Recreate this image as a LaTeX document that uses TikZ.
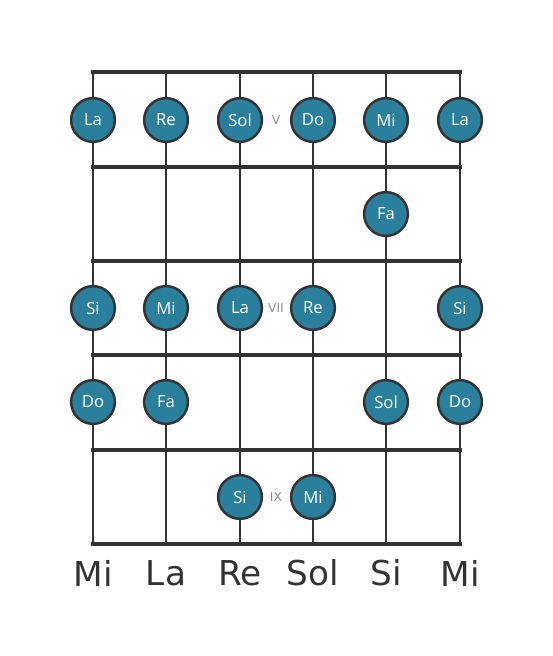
\documentclass[tikz,border=0pt]{standalone}
\usepackage{fontspec}
\setmainfont{DejaVu Sans}
\newfontfamily\notefont{Open Sans}
\definecolor{noteblue}{RGB}{42,128,156}
\definecolor{boardgray}{RGB}{51,51,51}
\tikzset{
	note/.style={circle, draw=boardgray, line width=1.4pt, fill=noteblue, minimum size=1.7cm/2*1.03, inner sep=0pt, text=white, font=\notefont\fontsize{9.5}{10}\selectfont},
	fretnum/.style={text=black!45, font=\fontsize{7}{8}\selectfont},
	stringname/.style={text=boardgray, font=\fontsize{19.5}{22}\selectfont},
}

\begin{document}
\begin{tikzpicture}[x=0.02cm, y=-0.02cm]
			%%%%% START %%%%%
			\useasboundingbox (0, 0) rectangle (553, 656);
			
			% strings
			\foreach \sx in {93, 166, 240, 313, 386, 460}
				\draw[line width=1.7pt, color=boardgray] (\sx, 72) -- (\sx, 544);
			
			% frets
			\foreach \fy in {72, 167, 261, 355, 450, 544}
				\draw[line width=2.8pt, color=boardgray] (91, \fy) -- (462, \fy);
			
			% fret V
			\node[note] (la1) at (93, 120) {La};
			\node[note] (re1) at (166, 120) {Re};
			\node[note] (sol1) at (240, 120) {Sol};
			\node[note] (do1) at (313, 120) {Do};
			\node[note] (mi1) at (386, 120) {Mi};
			\node[note] (la2) at (460, 120) {La};
			\node[fretnum] (fretV) at (276, 120) {V};
			
			\node[note] (fa1) at (386, 214) {Fa};
			
			% fret VII
			\node[note] (si1) at (93, 308) {Si};
			\node[note] (mi2) at (166, 308) {Mi};
			\node[note] (la3) at (240, 308) {La};
			\node[note] (re2) at (313, 308) {Re};
			\node[note] (si2) at (460, 308) {Si};
			\node[fretnum] (fretVII) at (276, 308) {VII};
			
			\node[note] (do2) at (93, 402) {Do};
			\node[note] (fa2) at (166, 402) {Fa};
			\node[note] (sol2) at (386, 402) {Sol};
			\node[note] (do3) at (460, 402) {Do};
			
			% fret IX
			\node[note] (si3) at (240, 497) {Si};
			\node[note] (mi3) at (313, 497) {Mi};
			\node[fretnum] (fretIX) at (276, 497) {IX};
			
			% open strings
			\node[stringname] (open1) at (93, 573) {Mi};
			\node[stringname] (open2) at (166, 573) {La};
			\node[stringname] (open3) at (240, 573) {Re};
			\node[stringname] (open4) at (313, 573) {Sol};
			\node[stringname] (open5) at (386, 573) {Si};
			\node[stringname] (open6) at (460, 573) {Mi};
			%%%%% END %%%%%
\end{tikzpicture}
\end{document}
